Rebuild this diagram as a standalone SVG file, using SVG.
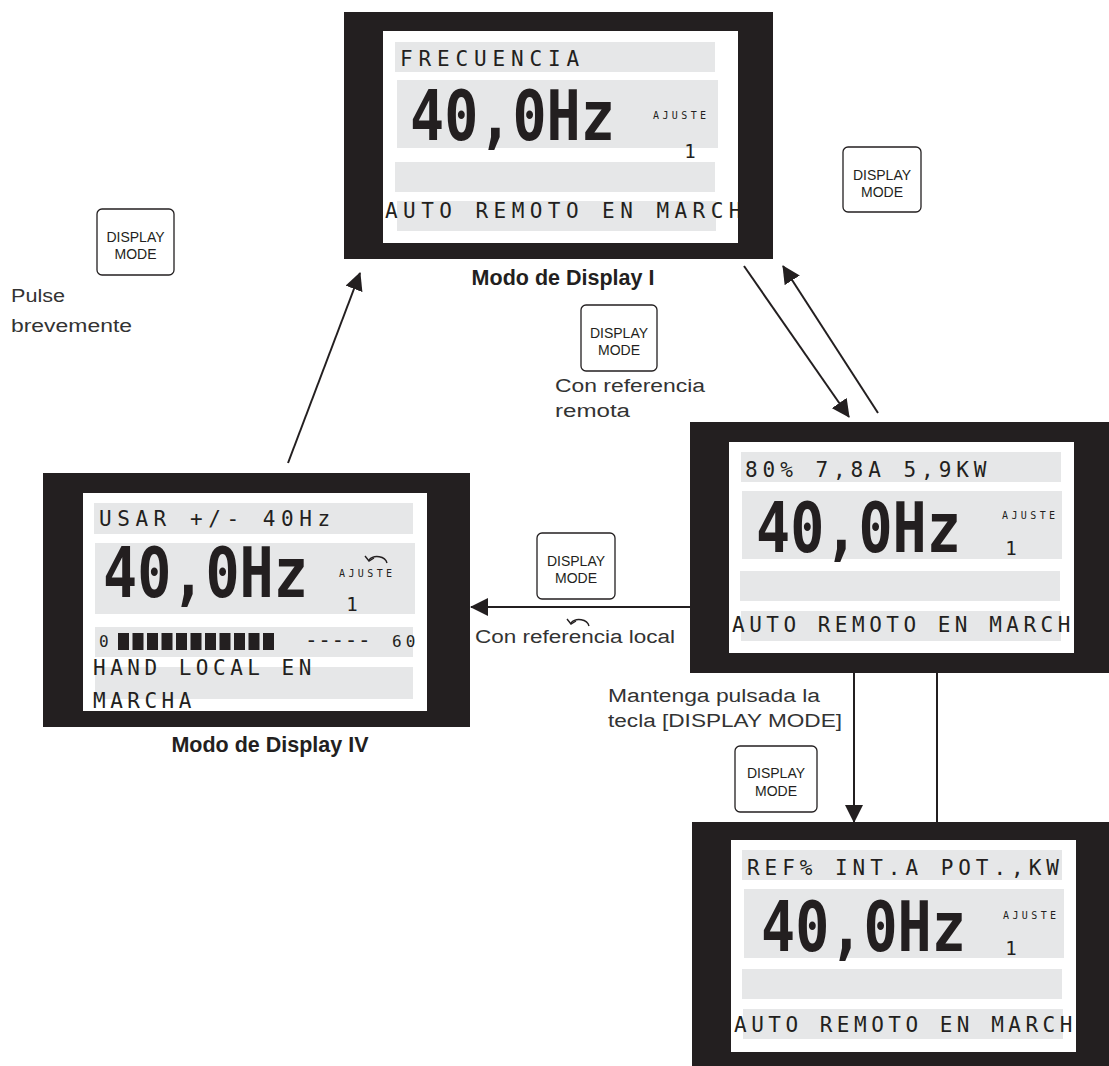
<svg xmlns="http://www.w3.org/2000/svg" width="1109" height="1066" viewBox="0 0 1109 1066">
<defs>
<style>
.frame{fill:#231f20;fill-rule:evenodd}
.scr{fill:#fff}
.bar{fill:#e6e7e8}
.lcd{font-family:"DejaVu Sans Mono",monospace;font-size:21px;letter-spacing:4.5px;fill:#231f20}
.big{font-family:"DejaVu Sans Mono",monospace;font-size:70px;font-weight:bold;fill:#231f20}
.aj{font-family:"DejaVu Sans Mono",monospace;font-size:10px;letter-spacing:3.4px;fill:#231f20}
.one{font-family:"DejaVu Sans Mono",monospace;font-size:19px;text-anchor:middle;fill:#231f20}
.blk{fill:#231f20}
.btn rect{fill:#fff;stroke:#231f20;stroke-width:1.3}
.btn text{font-family:"Liberation Sans",Arial,sans-serif;font-size:14px;text-anchor:middle;fill:#231f20}
.lbl{font-family:"Liberation Sans",Arial,sans-serif;font-size:18px;fill:#333}
.cap{font-family:"Liberation Sans",Arial,sans-serif;font-weight:bold;font-size:21.5px;text-anchor:middle;fill:#231f20}
.conn line{stroke:#231f20;stroke-width:2}
.rot{fill:none;stroke:#231f20;stroke-width:1.4}
</style>
<marker id="ah" markerUnits="userSpaceOnUse" markerWidth="18" markerHeight="18" refX="17" refY="9" orient="auto" viewBox="0 0 18 18">
<path d="M0,0 L18,9 L0,18 Z" fill="#231f20"/>
</marker>
<g id="rotIcon">
<path class="rot" d="M10,6 A10,8 0 0 0 -8,3"/>
<path class="rot" d="M-12,-1 L-8,4 L-3,1"/>
</g>
</defs>

<g id="connectors" class="conn">
<line x1="288" y1="463" x2="360" y2="273" marker-end="url(#ah)"/>
<line x1="744" y1="266" x2="849" y2="417" marker-end="url(#ah)"/>
<line x1="878" y1="413" x2="783" y2="266" marker-end="url(#ah)"/>
<line x1="690" y1="607" x2="471" y2="607" marker-end="url(#ah)"/>
<line x1="854" y1="673" x2="854" y2="822" marker-end="url(#ah)"/>
<line x1="937" y1="673" x2="937" y2="822"/>
</g>

<g id="display-I">
<rect class="scr" x="383" y="31" width="355" height="212"/>
<rect class="bar" x="395" y="42" width="320" height="30"/>
<rect class="bar" x="397" y="80" width="321" height="68"/>
<rect class="bar" x="395" y="162" width="320" height="30"/>
<rect class="bar" x="397" y="201" width="319" height="30"/>
<text class="lcd" x="400" y="66" style="letter-spacing:5.86px">FRECUENCIA</text>
<text class="big" transform="translate(410,140) scale(0.81,1)">40,0Hz</text>
<text class="aj" x="653" y="119">AJUSTE</text>
<text class="one" x="690" y="158">1</text>
<text class="lcd" x="385" y="218" style="letter-spacing:5.45px">AUTO REMOTO EN MARCH</text>
<path class="frame" d="M344,12 H773 V259 H344 Z M383,31 V243 H738 V31 Z"/>
<text class="cap" x="563" y="285">Modo de Display I</text>
</g>

<g id="display-IV">
<rect class="scr" x="83" y="493" width="344" height="218"/>
<rect class="bar" x="94" y="503" width="319" height="31"/>
<rect class="bar" x="95" y="543" width="320" height="71"/>
<rect class="bar" x="95" y="627" width="318" height="30"/>
<rect class="bar" x="95" y="667" width="318" height="32"/>
<text class="lcd" x="99" y="526" style="letter-spacing:5.56px">USAR +/- 40Hz</text>
<text class="big" transform="translate(103,597) scale(0.81,1)">40,0Hz</text>
<use href="#rotIcon" x="377" y="557"/>
<text class="aj" x="339" y="577">AJUSTE</text>
<text class="one" x="352" y="611">1</text>
<text class="lcd" x="99" y="647" style="font-size:16px">0</text>
<rect class="blk" x="118" y="633" width="11" height="17"/>
<rect class="blk" x="132.5" y="633" width="11" height="17"/>
<rect class="blk" x="147" y="633" width="11" height="17"/>
<rect class="blk" x="161.5" y="633" width="11" height="17"/>
<rect class="blk" x="176" y="633" width="11" height="17"/>
<rect class="blk" x="190.5" y="633" width="11" height="17"/>
<rect class="blk" x="205" y="633" width="11" height="17"/>
<rect class="blk" x="219.5" y="633" width="11" height="17"/>
<rect class="blk" x="234" y="633" width="11" height="17"/>
<rect class="blk" x="248.5" y="633" width="11" height="17"/>
<rect class="blk" x="263" y="633" width="11" height="17"/>
<text class="lcd" x="305" y="647" style="letter-spacing:0.6px">-----</text>
<text class="lcd" x="392" y="647" style="font-size:16px;letter-spacing:4px">60</text>
<text class="lcd" x="93" y="675">HAND LOCAL EN</text>
<text class="lcd" x="93" y="708">MARCHA</text>
<path class="frame" d="M43,473 H470 V727 H43 Z M83,493 V711 H427 V493 Z"/>
<text class="cap" x="270" y="752">Modo de Display IV</text>
</g>

<g id="display-II">
<rect class="scr" x="729" y="442" width="345" height="211"/>
<rect class="bar" x="741" y="452" width="320" height="30"/>
<rect class="bar" x="742" y="491" width="320" height="68"/>
<rect class="bar" x="740" y="571" width="320" height="30"/>
<rect class="bar" x="741" y="611" width="320" height="30"/>
<text class="lcd" x="745" y="477" style="letter-spacing:4.96px">80% 7,8A 5,9KW</text>
<text class="big" transform="translate(756,552) scale(0.81,1)">40,0Hz</text>
<text class="aj" x="1002" y="519">AJUSTE</text>
<text class="one" x="1011" y="555">1</text>
<text class="lcd" x="732" y="632">AUTO REMOTO EN MARCH</text>
<path class="frame" d="M690,422 H1109 V673 H690 Z M729,442 V653 H1074 V442 Z"/>
</g>

<g id="display-III">
<rect class="scr" x="731" y="840" width="345" height="212"/>
<rect class="bar" x="742" y="850" width="320" height="30"/>
<rect class="bar" x="744" y="889" width="320" height="69"/>
<rect class="bar" x="742" y="969" width="320" height="30"/>
<rect class="bar" x="743" y="1009" width="320" height="30"/>
<text class="lcd" x="747" y="875" style="letter-spacing:4.96px">REF% INT.A POT.,KW</text>
<text class="big" transform="translate(761,951) scale(0.81,1)">40,0Hz</text>
<text class="aj" x="1003" y="919">AJUSTE</text>
<text class="one" x="1011" y="955">1</text>
<text class="lcd" x="734" y="1032">AUTO REMOTO EN MARCH</text>
<path class="frame" d="M692,822 H1109 V1066 H692 Z M731,840 V1052 H1076 V840 Z"/>
</g>

<g id="btn-1" class="btn">
<rect x="97" y="209" width="77" height="66" rx="5"/>
<text x="135.5" y="242">DISPLAY</text>
<text x="135.5" y="259">MODE</text>
</g>
<g id="btn-2" class="btn">
<rect x="581" y="305" width="76" height="66" rx="5"/>
<text x="619" y="338">DISPLAY</text>
<text x="619" y="355">MODE</text>
</g>
<g id="btn-3" class="btn">
<rect x="843" y="147" width="78" height="65" rx="5"/>
<text x="882" y="180">DISPLAY</text>
<text x="882" y="197">MODE</text>
</g>
<g id="btn-4" class="btn">
<rect x="537" y="533" width="78" height="66" rx="5"/>
<text x="576" y="566">DISPLAY</text>
<text x="576" y="583">MODE</text>
</g>
<g id="btn-5" class="btn">
<rect x="735" y="746" width="82" height="66" rx="5"/>
<text x="776" y="778">DISPLAY</text>
<text x="776" y="796">MODE</text>
</g>

<g id="labels">
<text class="lbl" x="11" y="302" textLength="54" lengthAdjust="spacingAndGlyphs">Pulse</text>
<text class="lbl" x="11" y="332" textLength="121" lengthAdjust="spacingAndGlyphs">brevemente</text>
<text class="lbl" x="555" y="392" textLength="150" lengthAdjust="spacingAndGlyphs">Con referencia</text>
<text class="lbl" x="555" y="417" textLength="75" lengthAdjust="spacingAndGlyphs">remota</text>
<use href="#rotIcon" x="579" y="620"/>
<text class="lbl" x="475" y="643" textLength="200" lengthAdjust="spacingAndGlyphs">Con referencia local</text>
<text class="lbl" x="608" y="702" textLength="212" lengthAdjust="spacingAndGlyphs">Mantenga pulsada la</text>
<text class="lbl" x="608" y="727" textLength="234" lengthAdjust="spacingAndGlyphs">tecla [DISPLAY MODE]</text>
</g>
</svg>
